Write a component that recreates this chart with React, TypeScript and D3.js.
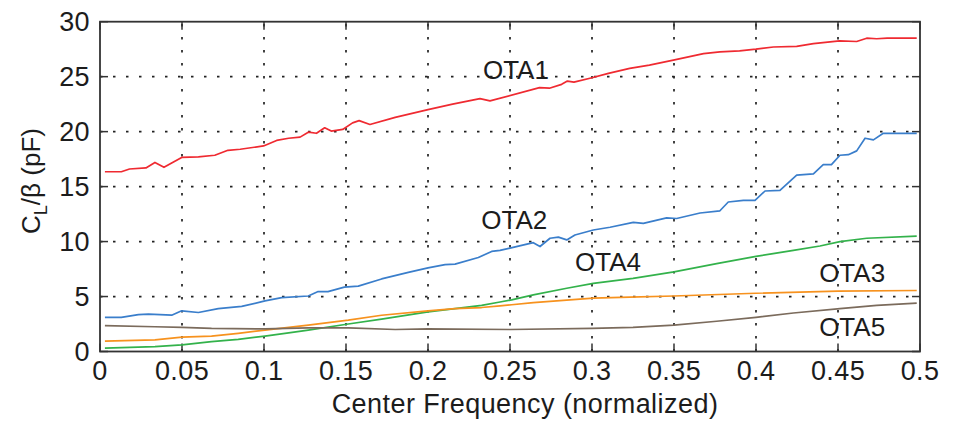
import React from "react";
import * as d3 from "d3";

const xTicks = [0, 0.05, 0.1, 0.15, 0.2, 0.25, 0.3, 0.35, 0.4, 0.45, 0.5];
const xTickLabels = ["0", "0.05", "0.1", "0.15", "0.2", "0.25", "0.3", "0.35", "0.4", "0.45", "0.5"];
const yTicks = [0, 5, 10, 15, 20, 25, 30];

const ota1X = [0.003, 0.013, 0.018, 0.028, 0.0335, 0.039, 0.0498, 0.06, 0.07, 0.078, 0.0855, 0.0997, 0.1077, 0.115, 0.122, 0.127, 0.132, 0.137, 0.141, 0.148, 0.154, 0.158, 0.1646, 0.18, 0.2, 0.215, 0.2317, 0.2378, 0.268, 0.274, 0.2815, 0.285, 0.289, 0.3, 0.31, 0.323, 0.335, 0.3496, 0.368, 0.378, 0.39, 0.4, 0.4106, 0.4248, 0.435, 0.451, 0.4614, 0.4675, 0.4736, 0.48, 0.498];
const ota1Y = [16.35, 16.35, 16.6, 16.7, 17.2, 16.75, 17.65, 17.7, 17.85, 18.3, 18.4, 18.7, 19.2, 19.4, 19.5, 19.95, 19.85, 20.35, 20.05, 20.2, 20.8, 21.0, 20.65, 21.3, 22.0, 22.5, 23.0, 22.8, 24.0, 23.95, 24.3, 24.6, 24.5, 24.9, 25.3, 25.75, 26.05, 26.5, 27.1, 27.25, 27.35, 27.5, 27.7, 27.75, 28.0, 28.25, 28.2, 28.5, 28.45, 28.5, 28.5];

const ota2X = [0.003, 0.013, 0.0234, 0.0295, 0.0437, 0.0498, 0.06, 0.0721, 0.0864, 0.1006, 0.1108, 0.127, 0.133, 0.139, 0.149, 0.1575, 0.1717, 0.188, 0.2, 0.2104, 0.2165, 0.2307, 0.2388, 0.2439, 0.25, 0.2642, 0.2683, 0.2744, 0.2795, 0.2846, 0.2896, 0.3008, 0.311, 0.3252, 0.3313, 0.3455, 0.3516, 0.3659, 0.378, 0.3831, 0.3923, 0.3994, 0.4055, 0.4146, 0.4248, 0.435, 0.441, 0.446, 0.4512, 0.4563, 0.4614, 0.4665, 0.4716, 0.4776, 0.498];
const ota2Y = [3.1, 3.1, 3.35, 3.4, 3.3, 3.7, 3.55, 3.9, 4.1, 4.6, 4.9, 5.05, 5.45, 5.45, 5.85, 5.95, 6.6, 7.2, 7.6, 7.9, 7.95, 8.55, 9.1, 9.2, 9.4, 9.9, 9.55, 10.3, 10.4, 10.15, 10.6, 11.05, 11.3, 11.75, 11.65, 12.15, 12.1, 12.6, 12.8, 13.6, 13.75, 13.75, 14.6, 14.65, 16.05, 16.15, 17.0, 17.0, 17.85, 17.9, 18.25, 19.4, 19.25, 19.85, 19.85];

const ota4X = [0.003, 0.0335, 0.05, 0.068, 0.0843, 0.1006, 0.115, 0.127, 0.1514, 0.1717, 0.2, 0.2165, 0.2327, 0.2439, 0.251, 0.2642, 0.2846, 0.3008, 0.325, 0.35, 0.376, 0.4, 0.4228, 0.439, 0.4512, 0.4675, 0.498];
const ota4Y = [0.3, 0.45, 0.6, 0.9, 1.1, 1.4, 1.7, 1.95, 2.5, 2.95, 3.6, 3.9, 4.2, 4.5, 4.7, 5.15, 5.75, 6.2, 6.65, 7.25, 8.0, 8.65, 9.2, 9.6, 10.0, 10.3, 10.5];

const ota3X = [0.003, 0.0335, 0.05, 0.068, 0.0843, 0.1006, 0.127, 0.1514, 0.1717, 0.2, 0.2165, 0.2327, 0.2439, 0.251, 0.2642, 0.3008, 0.323, 0.35, 0.4, 0.45, 0.498];
const ota3Y = [0.95, 1.05, 1.3, 1.4, 1.65, 1.95, 2.4, 2.85, 3.3, 3.7, 3.9, 4.0, 4.15, 4.25, 4.45, 4.85, 4.95, 5.05, 5.3, 5.5, 5.55];

const ota5X = [0.003, 0.0335, 0.05, 0.068, 0.1006, 0.127, 0.1514, 0.18, 0.2, 0.25, 0.3, 0.325, 0.35, 0.376, 0.4, 0.4228, 0.4512, 0.4736, 0.498];
const ota5Y = [2.35, 2.25, 2.2, 2.1, 2.05, 2.15, 2.15, 2.0, 2.05, 2.0, 2.1, 2.2, 2.4, 2.75, 3.1, 3.5, 3.9, 4.2, 4.4];

const seriesNames = ["OTA1", "OTA2", "OTA4", "OTA3", "OTA5"];
const seriesColors = ["#ef2a31", "#3a7ecb", "#33b24b", "#f7921e", "#7b6b5c"];
const seriesXs = [ota1X, ota2X, ota4X, ota3X, ota5X];
const seriesYs = [ota1Y, ota2Y, ota4Y, ota3Y, ota5Y];
// label anchor positions in data units (left x, baseline y)
const labelX = [0.2335, 0.2325, 0.2897, 0.4385, 0.4385];
const labelY = [24.75, 11.15, 7.35, 6.35, 1.4];

const W = 963, H = 422;
const L = 100, R = 920, T = 21.7, B = 351.5;
const FONT = "'Liberation Sans', Arial, Helvetica, sans-serif";
const TXT = "#1c1c1c";

export default function App() {
  const x = d3.scaleLinear().domain([0, 0.5]).range([L, R]);
  const y = d3.scaleLinear().domain([0, 30]).range([B, T]);
  const line = d3.line<[number, number]>().x(d => x(d[0])).y(d => y(d[1]));
  const tickLen = 8;

  return (
    <svg width={W} height={H} style={{ position: "absolute", left: 0, top: 0, background: "#fff" }} fontFamily={FONT}>
      <rect x={0} y={0} width={W} height={H} fill="#fff" />
      {/* grid */}
      {xTicks.slice(1, -1).map((t, i) => (
        <line key={"gx" + i} x1={x(t)} x2={x(t)} y1={B} y2={T} stroke="#222" strokeWidth={1.7} strokeDasharray="2.5 10.5" />
      ))}
      {yTicks.slice(1, -1).map((t, i) => (
        <line key={"gy" + i} x1={L} x2={R} y1={y(t)} y2={y(t)} stroke="#222" strokeWidth={1.7} strokeDasharray="2.5 10.5" />
      ))}
      {/* ticks */}
      {xTicks.map((t, i) => (
        <g key={"tx" + i}>
          <line x1={x(t)} x2={x(t)} y1={B} y2={B - tickLen} stroke="#333" strokeWidth={1.5} />
          <line x1={x(t)} x2={x(t)} y1={T} y2={T + tickLen} stroke="#333" strokeWidth={1.5} />
          <text x={x(t)} y={380} textAnchor="middle" fontSize={27} letterSpacing={0.4} fill={TXT}>{xTickLabels[i]}</text>
        </g>
      ))}
      {yTicks.map((t, i) => (
        <g key={"ty" + i}>
          <line x1={L} x2={L + tickLen} y1={y(t)} y2={y(t)} stroke="#333" strokeWidth={1.5} />
          <line x1={R} x2={R - tickLen} y1={y(t)} y2={y(t)} stroke="#333" strokeWidth={1.5} />
          <text x={90} y={y(t)} dy="0.36em" textAnchor="end" fontSize={27} letterSpacing={0.4} fill={TXT}>{t}</text>
        </g>
      ))}
      {/* series */}
      {seriesXs.map((xs, i) => {
        const pts = xs.map((v, j) => [v, seriesYs[i][j]] as [number, number]);
        return <path key={"s" + i} d={line(pts) || ""} fill="none" stroke={seriesColors[i]} strokeWidth={1.7} strokeLinejoin="round" />;
      })}
      {/* labels */}
      {seriesNames.map((n, i) => (
        <text key={"l" + i} x={x(labelX[i])} y={y(labelY[i])} fontSize={26} fill={TXT}>{n}</text>
      ))}
      {/* box */}
      <rect x={L} y={T} width={R - L} height={B - T} fill="none" stroke="#333" strokeWidth={1.8} />
      {/* axis labels */}
      <text x={525} y={413} textAnchor="middle" fontSize={27} letterSpacing={0.45} fill={TXT}>Center Frequency (normalized)</text>
      <text transform="translate(40,181) rotate(-90)" textAnchor="middle" fontSize={26} fill={TXT}>
        C<tspan fontSize={18} dy={7}>L</tspan><tspan dy={-7}>/β (pF)</tspan>
      </text>
    </svg>
  );
}
